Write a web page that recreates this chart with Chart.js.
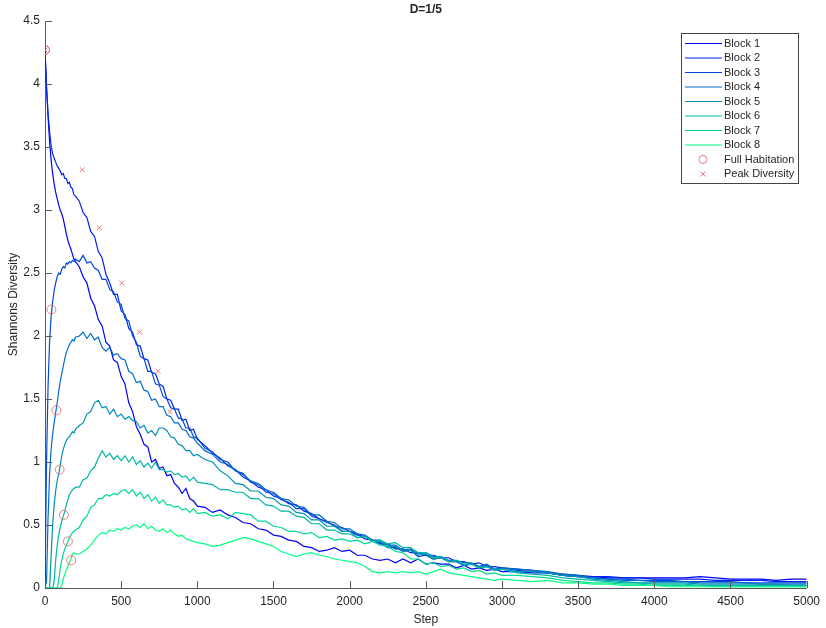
<!DOCTYPE html>
<html>
<head>
<meta charset="utf-8">
<script src="https://cdn.jsdelivr.net/npm/chart.js@4.4.1/dist/chart.umd.min.js"></script>
<style>
  body { margin: 0; background: #fff; }
  #wrap { width: 826px; height: 628px; }
</style>
</head>
<body>
<div id="wrap"><canvas id="chart"></canvas></div>
<script>
// x positions (steps) shared by all blocks
const steps = [
  0, 10, 20, 30, 40, 50, 60, 70, 80, 90, 100, 110, 120, 130, 140, 150, 160, 170, 180, 190, 200,
  225, 250, 275, 300, 325, 350, 375, 400, 425, 450, 475, 500, 525, 550, 575, 600, 625, 650, 675, 700,
  725, 750, 775, 800, 825, 850, 875, 900, 925, 950, 975, 1000,
  1050, 1100, 1150, 1200, 1250, 1300, 1350, 1400, 1450, 1500, 1550, 1600, 1650, 1700, 1750, 1800, 1850, 1900, 1950, 2000,
  2050, 2100, 2150, 2200, 2250, 2300, 2350, 2400, 2450, 2500, 2550, 2600, 2650, 2700, 2750, 2800, 2850, 2900, 2950, 3000,
  3100, 3200, 3300, 3400, 3500, 3600, 3700, 3800, 3900, 4000, 4100, 4200, 4300, 4400, 4500, 4600, 4700, 4800, 4900, 5000
]

const block1 = [
  4.27, 3.97, 3.74, 3.55, 3.40, 3.29, 3.21, 3.14, 3.09, 3.04, 3.00, 2.97, 2.93, 2.87, 2.81, 2.76, 2.72, 2.69, 2.65, 2.61, 2.59,
  2.55, 2.47, 2.42, 2.30, 2.24, 2.13, 2.08, 1.95, 1.92, 1.81, 1.79, 1.68, 1.62, 1.47, 1.40, 1.28, 1.22, 1.14, 1.12, 1.00,
  1.02, 0.95, 0.96, 0.89, 0.90, 0.83, 0.80, 0.75, 0.79, 0.71, 0.69, 0.65,
  0.64, 0.60, 0.62, 0.58, 0.56, 0.52, 0.51, 0.47, 0.46, 0.42, 0.41, 0.38, 0.37, 0.33, 0.32, 0.29, 0.30, 0.32, 0.29, 0.30,
  0.26, 0.26, 0.23, 0.22, 0.23, 0.20, 0.23, 0.20, 0.23, 0.19, 0.20, 0.19, 0.19, 0.16, 0.18, 0.15, 0.16, 0.14, 0.15, 0.13,
  0.13, 0.12, 0.12, 0.10, 0.09, 0.09, 0.08, 0.08, 0.08, 0.08, 0.08, 0.08, 0.09, 0.08, 0.07, 0.07, 0.07, 0.06, 0.07, 0.07
]
const block2 = [
  4.27, 3.98, 3.77, 3.62, 3.51, 3.45, 3.41, 3.38, 3.35, 3.33, 3.31, 3.28, 3.29, 3.25, 3.25, 3.21, 3.22, 3.18, 3.17, 3.12, 3.11,
  3.07, 2.98, 2.94, 2.83, 2.79, 2.67, 2.62, 2.49, 2.42, 2.33, 2.33, 2.20, 2.17, 2.06, 2.03, 1.93, 1.92, 1.82, 1.81, 1.71,
  1.70, 1.62, 1.60, 1.50, 1.49, 1.42, 1.42, 1.33, 1.34, 1.25, 1.26, 1.18,
  1.13, 1.07, 1.03, 0.97, 0.94, 0.88, 0.85, 0.80, 0.78, 0.73, 0.71, 0.67, 0.66, 0.61, 0.59, 0.55, 0.53, 0.49, 0.48, 0.45,
  0.43, 0.39, 0.38, 0.35, 0.35, 0.31, 0.31, 0.28, 0.28, 0.26, 0.26, 0.24, 0.24, 0.21, 0.21, 0.19, 0.20, 0.17, 0.17, 0.16,
  0.15, 0.14, 0.12, 0.11, 0.10, 0.09, 0.09, 0.08, 0.08, 0.07, 0.07, 0.07, 0.07, 0.06, 0.06, 0.06, 0.06, 0.05, 0.05, 0.05
]
const block3 = [
  0, 1.00, 1.60, 1.95, 2.15, 2.27, 2.36, 2.42, 2.47, 2.50, 2.49, 2.53, 2.55, 2.54, 2.58, 2.57, 2.59, 2.58, 2.60, 2.59, 2.61,
  2.59, 2.64, 2.58, 2.59, 2.54, 2.52, 2.45, 2.45, 2.37, 2.35, 2.27, 2.25, 2.14, 2.12, 2.00, 1.95, 1.84, 1.82, 1.72, 1.72,
  1.62, 1.61, 1.52, 1.50, 1.43, 1.42, 1.35, 1.34, 1.27, 1.27, 1.20, 1.19,
  1.11, 1.08, 1.02, 1.00, 0.93, 0.91, 0.84, 0.82, 0.76, 0.75, 0.70, 0.68, 0.63, 0.63, 0.57, 0.55, 0.52, 0.50, 0.45, 0.45,
  0.42, 0.41, 0.37, 0.36, 0.32, 0.32, 0.29, 0.30, 0.25, 0.26, 0.23, 0.24, 0.21, 0.21, 0.18, 0.19, 0.17, 0.18, 0.14, 0.16,
  0.14, 0.13, 0.12, 0.10, 0.09, 0.08, 0.07, 0.07, 0.06, 0.06, 0.06, 0.05, 0.05, 0.05, 0.05, 0.04, 0.04, 0.04, 0.04, 0.04
]
const block4 = [
  0, 0.05, 0.55, 0.90, 1.10, 1.22, 1.31, 1.39, 1.47, 1.56, 1.64, 1.70, 1.76, 1.82, 1.87, 1.90, 1.93, 1.95, 1.97, 1.96, 1.99,
  2.00, 2.03, 1.98, 2.02, 1.97, 1.99, 1.91, 1.88, 1.91, 1.85, 1.86, 1.82, 1.81, 1.72, 1.70, 1.63, 1.64, 1.57, 1.56, 1.49,
  1.50, 1.44, 1.44, 1.37, 1.36, 1.31, 1.31, 1.26, 1.25, 1.20, 1.19, 1.15,
  1.09, 1.06, 1.00, 0.98, 0.93, 0.90, 0.85, 0.83, 0.78, 0.76, 0.71, 0.70, 0.65, 0.64, 0.58, 0.58, 0.53, 0.52, 0.47, 0.47,
  0.43, 0.42, 0.38, 0.38, 0.34, 0.34, 0.30, 0.31, 0.27, 0.28, 0.25, 0.25, 0.22, 0.22, 0.20, 0.20, 0.17, 0.19, 0.15, 0.16,
  0.15, 0.14, 0.13, 0.11, 0.10, 0.08, 0.07, 0.06, 0.06, 0.05, 0.05, 0.05, 0.04, 0.04, 0.04, 0.04, 0.03, 0.03, 0.03, 0.03
]
const block5 = [
  0, 0, 0, 0, 0.25, 0.50, 0.66, 0.77, 0.85, 0.91, 0.97, 1.05, 1.10, 1.14, 1.17, 1.19, 1.20, 1.22, 1.24, 1.23, 1.26,
  1.29, 1.31, 1.38, 1.40, 1.47, 1.49, 1.43, 1.44, 1.38, 1.42, 1.36, 1.38, 1.34, 1.36, 1.33, 1.32, 1.27, 1.29, 1.23, 1.25,
  1.21, 1.27, 1.27, 1.25, 1.20, 1.19, 1.14, 1.13, 1.09, 1.09, 1.05, 1.06,
  1.02, 1.00, 0.93, 0.89, 0.83, 0.82, 0.77, 0.77, 0.72, 0.71, 0.66, 0.65, 0.60, 0.59, 0.54, 0.54, 0.49, 0.49, 0.45, 0.45,
  0.40, 0.41, 0.37, 0.37, 0.33, 0.33, 0.29, 0.30, 0.26, 0.27, 0.23, 0.24, 0.21, 0.21, 0.18, 0.19, 0.16, 0.17, 0.14, 0.15,
  0.13, 0.13, 0.12, 0.10, 0.09, 0.07, 0.06, 0.05, 0.04, 0.04, 0.04, 0.04, 0.03, 0.03, 0.03, 0.03, 0.03, 0.03, 0.02, 0.02
]
const block6 = [
  0, 0, 0, 0, 0, 0, 0.05, 0.22, 0.34, 0.42, 0.48, 0.53, 0.57, 0.61, 0.66, 0.70, 0.74, 0.76, 0.78, 0.79, 0.80,
  0.80, 0.86, 0.87, 0.93, 0.96, 1.03, 1.09, 1.04, 1.07, 1.02, 1.05, 1.01, 1.05, 1.00, 1.04, 0.98, 1.01, 0.96, 0.99, 0.95,
  1.00, 0.94, 0.94, 0.92, 0.93, 0.90, 0.91, 0.88, 0.89, 0.85, 0.88, 0.84,
  0.83, 0.82, 0.78, 0.78, 0.76, 0.76, 0.71, 0.71, 0.66, 0.65, 0.61, 0.61, 0.57, 0.56, 0.51, 0.51, 0.46, 0.46, 0.43, 0.43,
  0.40, 0.41, 0.37, 0.38, 0.35, 0.36, 0.32, 0.32, 0.28, 0.28, 0.24, 0.25, 0.21, 0.22, 0.19, 0.19, 0.16, 0.17, 0.14, 0.15,
  0.12, 0.11, 0.10, 0.08, 0.07, 0.06, 0.05, 0.04, 0.04, 0.03, 0.03, 0.03, 0.02, 0.02, 0.02, 0.02, 0.02, 0.02, 0.02, 0.02
]
const block7 = [
  0, 0, 0, 0, 0, 0, 0, 0, 0, 0.06, 0.16, 0.22, 0.27, 0.31, 0.34, 0.37, 0.40, 0.42, 0.44, 0.45, 0.46,
  0.48, 0.54, 0.57, 0.64, 0.66, 0.71, 0.71, 0.74, 0.73, 0.75, 0.74, 0.77, 0.78, 0.75, 0.78, 0.73, 0.76, 0.71, 0.74, 0.69,
  0.72, 0.67, 0.70, 0.66, 0.66, 0.64, 0.65, 0.62, 0.63, 0.60, 0.63, 0.59,
  0.60, 0.57, 0.58, 0.55, 0.60, 0.59, 0.58, 0.53, 0.53, 0.49, 0.48, 0.45, 0.45, 0.43, 0.44, 0.40, 0.41, 0.38, 0.39, 0.37,
  0.38, 0.35, 0.37, 0.34, 0.33, 0.29, 0.28, 0.23, 0.23, 0.19, 0.20, 0.17, 0.18, 0.15, 0.16, 0.13, 0.14, 0.11, 0.12, 0.10,
  0.10, 0.09, 0.08, 0.06, 0.05, 0.04, 0.04, 0.03, 0.03, 0.02, 0.02, 0.02, 0.02, 0.01, 0.01, 0.01, 0.01, 0.01, 0.01, 0.01
]
const block8 = [
  0, 0, 0, 0, 0, 0, 0, 0, 0, 0, 0, 0.02, 0.07, 0.11, 0.14, 0.17, 0.20, 0.23, 0.27, 0.28, 0.27,
  0.27, 0.29, 0.31, 0.34, 0.38, 0.42, 0.44, 0.43, 0.46, 0.45, 0.47, 0.46, 0.48, 0.47, 0.49, 0.50, 0.48, 0.51, 0.47, 0.49,
  0.46, 0.45, 0.47, 0.44, 0.46, 0.43, 0.41, 0.42, 0.39, 0.38, 0.37, 0.36,
  0.35, 0.33, 0.34, 0.36, 0.38, 0.40, 0.39, 0.37, 0.35, 0.33, 0.29, 0.27, 0.25, 0.27, 0.28, 0.26, 0.25, 0.23, 0.22, 0.21,
  0.20, 0.17, 0.13, 0.12, 0.13, 0.12, 0.13, 0.12, 0.13, 0.11, 0.13, 0.15, 0.12, 0.11, 0.10, 0.09, 0.08, 0.07, 0.06, 0.07,
  0.06, 0.05, 0.06, 0.04, 0.04, 0.03, 0.03, 0.02, 0.02, 0.02, 0.01, 0.01, 0.01, 0.01, 0.01, 0.01, 0.01, 0.01, 0.01, 0.01
]

const blockLabels = ["Block 1", "Block 2", "Block 3", "Block 4", "Block 5", "Block 6", "Block 7", "Block 8"]
const blockColors = [
  "rgb(0,0,255)", "rgb(0,36,237)", "rgb(0,73,219)", "rgb(0,109,200)",
  "rgb(0,146,182)", "rgb(0,182,164)", "rgb(0,219,146)", "rgb(0,255,128)"
]

// markers
const habitationX = [0, 0, 42, 74, 96, 124, 150, 172]
const habitationY = [4.27, 4.27, 2.21, 1.41, 0.94, 0.58, 0.37, 0.22]
const peakX = [0, 244, 357, 503, 620, 742, 820]
const peakY = [4.27, 3.32, 2.86, 2.42, 2.03, 1.72, 1.40]

const markerColor = "rgb(232,110,110)"
const axisColor = "#5a5a5a"
const textColor = "#262626"
const fontFamily = "'Liberation Sans', Arial, sans-serif"

const blocks = [block1, block2, block3, block4, block5, block6, block7, block8]

function toPoints(xs, ys) {
  return xs.map((x, i) => ({ x: x, y: ys[i] }))
}

const datasets = blocks.map((vals, i) => ({
  type: "line",
  label: blockLabels[i],
  data: toPoints(steps, vals),
  borderColor: blockColors[i],
  borderWidth: 1.2,
  pointRadius: 0,
  tension: 0,
  fill: false,
  order: 20 - i,
}))

datasets.push({
  type: "scatter",
  label: "Full Habitation",
  data: toPoints(habitationX, habitationY),
  pointStyle: "circle",
  pointRadius: 4.5,
  borderColor: markerColor,
  backgroundColor: "rgba(0,0,0,0)",
  borderWidth: 0.9,
  order: 1,
})
datasets.push({
  type: "scatter",
  label: "Peak Diversity",
  data: toPoints(peakX, peakY),
  pointStyle: "crossRot",
  pointRadius: 3.5,
  borderColor: markerColor,
  borderWidth: 0.9,
  order: 0,
})

// MATLAB-like inward ticks, title and legend box
const matlabLook = {
  id: "matlabLook",
  afterDraw(chart) {
    const ctx = chart.ctx
    const area = chart.chartArea
    const xs = chart.scales.x
    const ys = chart.scales.y
    ctx.save()
    ctx.strokeStyle = axisColor
    ctx.lineWidth = 1
    ctx.beginPath()
    xs.ticks.forEach((t) => {
      const px = Math.round(xs.getPixelForValue(t.value)) + 0.5
      ctx.moveTo(px, area.bottom)
      ctx.lineTo(px, area.bottom - 7)
    })
    ys.ticks.forEach((t) => {
      const py = Math.round(ys.getPixelForValue(t.value)) + 0.5
      ctx.moveTo(area.left, py)
      ctx.lineTo(area.left + 7, py)
    })
    ctx.stroke()

    // title
    ctx.fillStyle = textColor
    ctx.font = "bold 12px " + fontFamily
    ctx.textAlign = "center"
    ctx.textBaseline = "middle"
    ctx.fillText("D=1/5", (area.left + area.right) / 2, 10)

    // legend
    const bx = 681, by = 33, bw = 117, bh = 150
    ctx.fillStyle = "#fff"
    ctx.fillRect(bx, by, bw, bh)
    ctx.strokeStyle = "#444"
    ctx.strokeRect(bx + 0.5, by + 0.5, bw, bh)
    ctx.font = "11px " + fontFamily
    ctx.textAlign = "left"
    const rowH = 14.5
    blockLabels.forEach((lab, i) => {
      const y = by + 10.5 + i * rowH
      ctx.strokeStyle = blockColors[i]
      ctx.beginPath()
      ctx.moveTo(685, y)
      ctx.lineTo(722, y)
      ctx.stroke()
      ctx.fillStyle = textColor
      ctx.fillText(lab, 724, y)
    })
    let y = by + 10.5 + 8 * rowH
    ctx.strokeStyle = markerColor
    ctx.lineWidth = 0.9
    ctx.beginPath()
    ctx.arc(703, y, 4, 0, Math.PI * 2)
    ctx.stroke()
    ctx.fillStyle = textColor
    ctx.fillText("Full Habitation", 724, y)
    y += rowH
    ctx.beginPath()
    ctx.moveTo(700.5, y - 2.5)
    ctx.lineTo(705.5, y + 2.5)
    ctx.moveTo(705.5, y - 2.5)
    ctx.lineTo(700.5, y + 2.5)
    ctx.stroke()
    ctx.fillText("Peak Diversity", 724, y)
    ctx.restore()
  },
}

const config = {
  data: { datasets: datasets },
  options: {
    responsive: true,
    maintainAspectRatio: false,
    animation: false,
    layout: { padding: { top: 21, right: 15, left: 0, bottom: 0 } },
    plugins: {
      legend: { display: false },
      tooltip: { enabled: false },
    },
    scales: {
      x: {
        type: "linear",
        min: 0,
        max: 5000,
        grid: { display: false, drawTicks: false },
        border: { display: true, color: axisColor, width: 1 },
        ticks: {
          stepSize: 500,
          padding: 6,
          color: textColor,
          font: { family: fontFamily, size: 12 },
          maxRotation: 0,
          callback: (val) => String(val),
        },
        title: {
          display: true,
          text: "Step",
          color: textColor,
          font: { family: fontFamily, size: 12 },
          padding: { top: 0, bottom: 1 },
        },
        afterFit: (scale) => { scale.height = 40 },
      },
      y: {
        min: 0,
        max: 4.5,
        grid: { display: false, drawTicks: false },
        border: { display: true, color: axisColor, width: 1 },
        ticks: {
          stepSize: 0.5,
          padding: 5,
          color: textColor,
          font: { family: fontFamily, size: 12 },
          callback: (val) => String(val),
        },
        title: {
          display: true,
          text: "Shannons Diversity",
          color: textColor,
          font: { family: fontFamily, size: 12 },
          padding: { top: 6, bottom: 0 },
        },
        afterFit: (scale) => { scale.width = 45 },
      },
    },
  },
  plugins: [matlabLook],
}

const chart = new Chart(document.getElementById("chart"), config)
</script>
</body>
</html>
